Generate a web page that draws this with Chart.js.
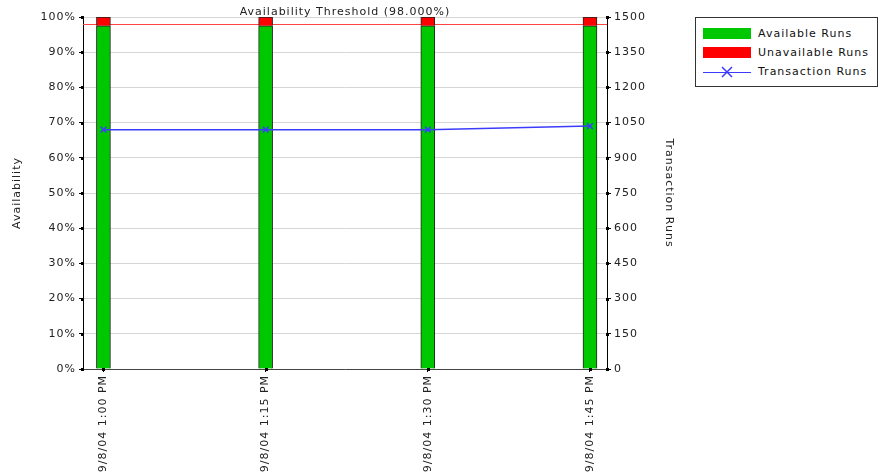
<!DOCTYPE html>
<html>
<head>
<meta charset="utf-8">
<script src="https://cdn.jsdelivr.net/npm/chart.js@4/dist/chart.umd.min.js"></script>
<style>
  html, body { margin: 0; padding: 0; background: #fff; }
  #wrap { position: relative; width: 878px; height: 475px; overflow: hidden; }
  #c { position: absolute; left: 0; top: 0; }
  #legend { position: absolute; left: 695px; top: 17px; width: 181px; height: 68px;
            border: 1px solid #333; background: #fff; font-family: "DejaVu Sans", sans-serif;
            font-size: 11px; color: #111; letter-spacing: 1px; }
  .row { position: absolute; left: 7px; height: 14px; line-height: 14px; }
  .sw { position: absolute; left: 0; top: 1px; width: 48px; height: 11px; }
  .lbl { position: absolute; left: 55px; top: 0; white-space: nowrap; }
</style>
</head>
<body>
<div id="wrap">
  <canvas id="c" width="690" height="475"></canvas>
  <div id="legend"></div>
</div>
<script>
const categories = ["9/8/04 1:00 PM", "9/8/04 1:15 PM", "9/8/04 1:30 PM", "9/8/04 1:45 PM"];
const availableRuns = [97.5, 97.5, 97.5, 97.5];
const unavailableRuns = [2.5, 2.5, 2.5, 2.5];
const transactionRuns = [1020, 1020, 1020, 1035];
const thresholdValue = 98;
const thresholdLabel = "Availability Threshold (98.000%)";
const legendLabels = ["Available Runs", "Unavailable Runs", "Transaction Runs"];
const leftTicks = [0, 10, 20, 30, 40, 50, 60, 70, 80, 90, 100];
const rightTicks = [0, 150, 300, 450, 600, 750, 900, 1050, 1200, 1350, 1500];

const GREEN = '#00c800', RED = '#ff0000', BLUE = '#3c3cff';
const FONT = { family: 'DejaVu Sans', size: 11 };
const SPACING = '1px';

const toXY = arr => arr.map((v, i) => ({ x: i, y: v }));

const extrasPlugin = {
  id: 'extras',
  beforeInit(chart) { chart.ctx.letterSpacing = SPACING; },
  beforeUpdate(chart) { chart.ctx.letterSpacing = SPACING; },
  beforeLayout(chart) { chart.ctx.letterSpacing = SPACING; },
  beforeDraw(chart) { chart.ctx.letterSpacing = SPACING; },
  beforeDatasetsDraw(chart) {
    const { ctx, chartArea } = chart;
    const y = chart.scales.y.getPixelForValue(thresholdValue);
    ctx.save();
    ctx.strokeStyle = '#ff4444';
    ctx.lineWidth = 1;
    ctx.beginPath();
    ctx.moveTo(chartArea.left, Math.round(y) + 0.5);
    ctx.lineTo(chartArea.right, Math.round(y) + 0.5);
    ctx.stroke();
    ctx.restore();
  },
  afterDraw(chart) {
    const { ctx, chartArea } = chart;
    ctx.save();
    ctx.fillStyle = '#000';
    const ys = chart.scales.y, y1 = chart.scales.y1, xs = chart.scales.x;
    ys.ticks.forEach(t => { const p = ys.getPixelForValue(t.value); ctx.fillRect(chartArea.left - 2, Math.round(p) - 1, 3, 3); });
    y1.ticks.forEach(t => { const p = y1.getPixelForValue(t.value); ctx.fillRect(chartArea.right - 1, Math.round(p) - 1, 3, 3); });
    xs.ticks.forEach(t => { const p = xs.getPixelForValue(t.value); ctx.fillRect(Math.round(p) - 1, chartArea.bottom - 1, 3, 3); });
    ctx.font = '11px "DejaVu Sans"';
    ctx.letterSpacing = SPACING;
    ctx.fillStyle = '#222';
    ctx.textAlign = 'center';
    ctx.textBaseline = 'middle';
    ctx.fillText(thresholdLabel, (chartArea.left + chartArea.right) / 2, chartArea.top - 5);
    ctx.restore();
  }
};

new Chart(document.getElementById('c'), {
  data: {
    datasets: [
      { type: 'line', label: legendLabels[2], data: toXY(transactionRuns), yAxisID: 'y1',
        borderColor: BLUE, backgroundColor: BLUE, borderWidth: 1.5, pointStyle: 'crossRot',
        pointRadius: 4, pointBorderWidth: 1.5, pointBorderColor: BLUE, order: 0, stack: 'line' },
      { type: 'bar', label: legendLabels[0], data: toXY(availableRuns), yAxisID: 'y',
        backgroundColor: GREEN, borderColor: '#222', borderWidth: 1, barThickness: 14, order: 1, stack: 'a' },
      { type: 'bar', label: legendLabels[1], data: toXY(unavailableRuns), yAxisID: 'y',
        backgroundColor: RED, borderColor: '#222', borderWidth: 1, barThickness: 14, order: 1, stack: 'a' }
    ]
  },
  options: {
    responsive: false,
    animation: false,
    layout: { padding: { top: 17, left: 0, right: 0, bottom: 0 } },
    plugins: { legend: { display: false }, tooltip: { enabled: false } },
    scales: {
      x: {
        type: 'linear', stacked: true, min: -0.126, max: 3.105, offset: false,
        afterBuildTicks: s => { s.ticks = categories.map((c, i) => ({ value: i })); },
        afterFit: s => { s.height = 106; },
        ticks: { font: FONT, color: '#222', maxRotation: 90, minRotation: 90, padding: 3, autoSkip: false,
                 callback: v => categories[v] },
        grid: { offset: false, drawOnChartArea: false, tickLength: 3, tickColor: '#000' },
        border: { color: '#444', width: 1 }
      },
      y: {
        type: 'linear', position: 'left', stacked: true, min: 0, max: 100,
        afterBuildTicks: s => { s.ticks = leftTicks.map(v => ({ value: v })); },
        afterFit: s => { s.width = 83; },
        ticks: { font: FONT, color: '#222', padding: 3, callback: v => v + '%' },
        grid: { color: '#d6d6d6', tickLength: 4, tickColor: '#000', lineWidth: 1 },
        border: { color: '#000', width: 1 },
        title: { display: true, text: 'Availability', font: FONT, color: '#222', padding: { top: 11, bottom: 0 } }
      },
      y1: {
        type: 'linear', position: 'right', min: 0, max: 1500,
        afterBuildTicks: s => { s.ticks = rightTicks.map(v => ({ value: v })); },
        afterFit: s => { s.width = 83; },
        ticks: { font: FONT, color: '#222', padding: 3, callback: v => String(v) },
        grid: { drawOnChartArea: false, tickLength: 4, tickColor: '#000' },
        border: { color: '#000', width: 1 },
        title: { display: true, text: 'Transaction Runs', font: FONT, color: '#222', padding: { top: 15, bottom: 0 } }
      }
    }
  },
  plugins: [extrasPlugin]
});

const legend = document.getElementById('legend');
const colors = [GREEN, RED, null];
legendLabels.forEach((txt, i) => {
  const row = document.createElement('div');
  row.className = 'row';
  row.style.top = (9 + i * 19) + 'px';
  if (colors[i]) {
    const sw = document.createElement('div');
    sw.className = 'sw';
    sw.style.background = colors[i];
    row.appendChild(sw);
  } else {
    const sw = document.createElement('canvas');
    sw.width = 48; sw.height = 14;
    sw.style.position = 'absolute'; sw.style.left = '0'; sw.style.top = '0';
    const g = sw.getContext('2d');
    g.strokeStyle = BLUE; g.lineWidth = 1.2;
    g.beginPath(); g.moveTo(0, 7.5); g.lineTo(48, 7.5); g.stroke();
    g.lineWidth = 1.5;
    g.beginPath(); g.moveTo(19, 2); g.lineTo(29, 12); g.moveTo(29, 2); g.lineTo(19, 12); g.stroke();
    row.appendChild(sw);
  }
  const l = document.createElement('div');
  l.className = 'lbl';
  l.textContent = txt;
  row.appendChild(l);
  legend.appendChild(row);
});
</script>
</body>
</html>
